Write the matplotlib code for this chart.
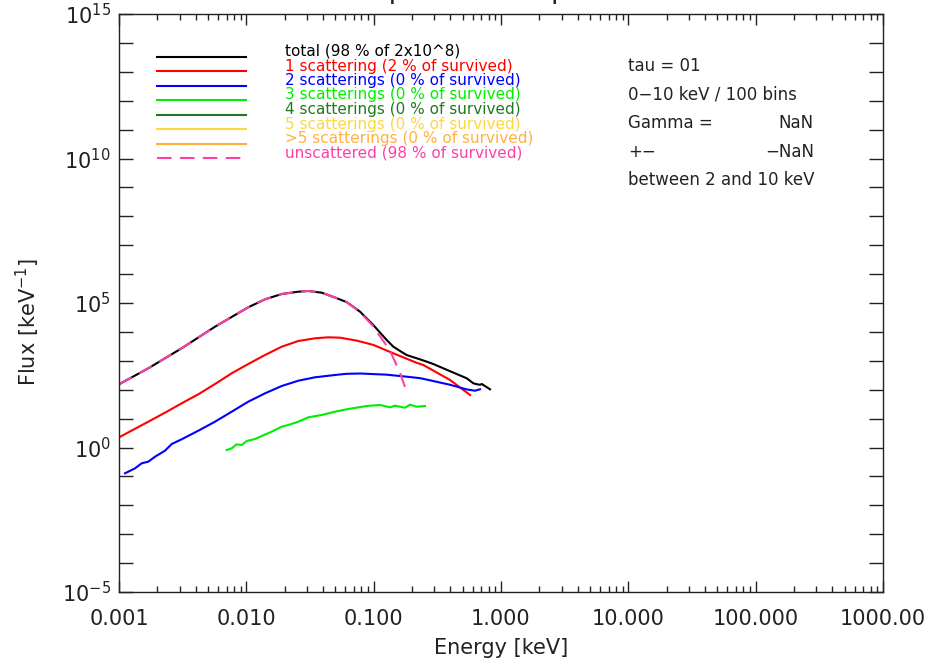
import numpy as np
import matplotlib
matplotlib.use('Agg')
import matplotlib.pyplot as plt
from matplotlib.ticker import FixedLocator, FixedFormatter, NullFormatter
from matplotlib.lines import Line2D

# ---------------- data (log10 of energy [keV] and flux [keV^-1]) ----------------
total_logE = [-3.000, -2.770, -2.508, -2.246, -1.985, -1.853, -1.722, -1.592, -1.513,
              -1.408, -1.304, -1.212, -1.160, -1.107, -1.003, -0.898, -0.846, -0.793,
              -0.741, -0.636, -0.583, -0.532, -0.400, -0.269, -0.217, -0.191, -0.165,
              -0.151, -0.086]
total_logF = [2.187, 2.740, 3.433, 4.180, 4.851, 5.128, 5.311, 5.391, 5.415,
              5.357, 5.190, 5.030, 4.870, 4.700, 4.239, 3.720, 3.490, 3.340,
              3.200, 3.050, 2.970, 2.889, 2.640, 2.394, 2.221, 2.190, 2.170,
              2.197, 2.014]

unsc_logE = [-3.000, -2.770, -2.508, -2.246, -1.985, -1.853, -1.722, -1.592, -1.513,
             -1.408, -1.304, -1.212, -1.160, -1.107, -1.005, -0.872, -0.793, -0.741]
unsc_logF = [2.187, 2.740, 3.433, 4.180, 4.851, 5.128, 5.311, 5.391, 5.415,
             5.357, 5.190, 5.030, 4.860, 4.678, 4.204, 3.350, 2.590, 1.931]

s1_logE = [-3.005, -2.770, -2.639, -2.508, -2.377, -2.246, -2.115, -1.985, -1.853,
           -1.722, -1.592, -1.461, -1.356, -1.264, -1.134, -1.003, -0.846, -0.662,
           -0.610, -0.400, -0.243]
s1_logF = [0.339, 0.893, 1.204, 1.529, 1.841, 2.197, 2.567, 2.889, 3.201,
           3.488, 3.685, 3.778, 3.813, 3.800, 3.700, 3.550, 3.260, 2.930,
           2.855, 2.336, 1.817]

s2_logE = [-2.953, -2.874, -2.822, -2.770, -2.717, -2.639, -2.586, -2.508, -2.377,
           -2.246, -2.115, -1.985, -1.853, -1.722, -1.592, -1.461, -1.304, -1.212,
           -1.100, -1.003, -0.898, -0.741, -0.636, -0.532, -0.400, -0.269, -0.204,
           -0.165]
s2_logF = [-0.893, -0.720, -0.547, -0.491, -0.318, -0.111, 0.121, 0.284, 0.581,
           0.893, 1.239, 1.585, 1.875, 2.128, 2.311, 2.429, 2.509, 2.550,
           2.560, 2.540, 2.520, 2.450, 2.400, 2.300, 2.170, 2.010, 1.965,
           2.014]

s3_logE = [-2.154, -2.115, -2.076, -2.036, -1.997, -1.932, -1.879, -1.801, -1.722,
           -1.670, -1.592, -1.513, -1.408, -1.304, -1.212, -1.133, -1.055, -0.950,
           -0.872, -0.832, -0.754, -0.715, -0.662, -0.597]
s3_logF = [-0.087, -0.028, 0.110, 0.087, 0.225, 0.294, 0.398, 0.547, 0.720,
           0.779, 0.893, 1.045, 1.125, 1.239, 1.322, 1.380, 1.436, 1.471,
           1.391, 1.446, 1.377, 1.481, 1.412, 1.436]

legend_labels = ["total (98 % of 2x10^8)",
                 "1 scattering (2 % of survived)",
                 "2 scatterings (0 % of survived)",
                 "3 scatterings (0 % of survived)",
                 "4 scatterings (0 % of survived)",
                 "5 scatterings (0 % of survived)",
                 ">5 scatterings (0 % of survived)",
                 "unscattered (98 % of survived)"]
legend_colors = ["#000000", "#ff0000", "#0000ff", "#00ee00", "#1f7a1f",
                 "#ffd740", "#ffb040", "#ff3fa8"]
legend_dashed = [False] * 7 + [True]

info_left = ["tau = 01", "0\u221210 keV / 100 bins", "Gamma =", "+\u2212",
             "between 2 and 10 keV"]
info_right = ["", "", "NaN", "\u2212NaN", ""]

xtick_vals = [0.001, 0.01, 0.1, 1.0, 10.0, 100.0, 1000.0]
xtick_labels = ["0.001", "0.010", "0.100", "1.000", "10.000", "100.000", "1000.00"]
ytick_exps = list(range(-5, 16))
title = "Spectrum - Sphere"

# ---------------- figure ----------------
W, H = 931, 661
fig = plt.figure(figsize=(W / 100, H / 100), dpi=100)
fig.patch.set_facecolor('white')
L, R, T, B = 119, 883, 14, 592
ax = fig.add_axes([L / W, 1 - B / H, (R - L) / W, (B - T) / H])

fc = '#222222'

def p(le, lf):
    return 10 ** np.array(le), 10 ** np.array(lf)

lw = 1.5
ax.plot(*p(total_logE, total_logF), color=legend_colors[0], lw=lw)
ax.plot(*p(s1_logE, s1_logF), color=legend_colors[1], lw=lw)
ax.plot(*p(s2_logE, s2_logF), color=legend_colors[2], lw=lw)
ax.plot(*p(s3_logE, s3_logF), color=legend_colors[3], lw=lw)
ax.plot(*p(unsc_logE, unsc_logF), color=legend_colors[7], lw=lw, dashes=(7, 4))

ax.set_xscale('log')
ax.set_yscale('log')
ax.set_xlim(1e-3, 1e3)
ax.set_ylim(1e-5, 1e15)

ax.xaxis.set_major_locator(FixedLocator(xtick_vals))
ax.xaxis.set_major_formatter(FixedFormatter(xtick_labels))
minors = [m * 10.0 ** k for k in range(-3, 3) for m in range(2, 10)]
ax.xaxis.set_minor_locator(FixedLocator(minors))
ax.xaxis.set_minor_formatter(NullFormatter())

ax.yaxis.set_major_locator(FixedLocator([10.0 ** e for e in ytick_exps]))
ax.yaxis.set_major_formatter(FixedFormatter(
    [("$10^{%d}$" % e) if e % 5 == 0 else "" for e in ytick_exps]))
ax.yaxis.set_minor_locator(FixedLocator([]))

ax.tick_params(axis='x', which='major', direction='in', length=8, width=1,
               top=True, bottom=True, colors=fc, labelsize=15, pad=12)
ax.tick_params(axis='x', which='minor', direction='in', length=4, width=1,
               top=True, bottom=True, colors=fc)
ax.tick_params(axis='y', which='major', direction='in', length=10, width=1,
               left=True, right=True, colors=fc, labelsize=15, pad=6)
for s in ax.spines.values():
    s.set_color(fc)
    s.set_linewidth(1)

# axis labels
fig.text(501 / W, 1 - 648 / H, "Energy [keV]", ha='center', va='center',
         fontsize=15, color=fc)
fig.text(28 / W, 1 - 322 / H, "Flux [keV$^{-1}$]", ha='center', va='center',
         rotation=90, fontsize=15, color=fc)

# title (mostly above the top edge, as in the reference)
fig.text(501 / W, 1 + 2 / H, title, ha='center', va='baseline', fontsize=20,
         color=fc)

# legend drawn by hand
for i, (lab, col, dsh) in enumerate(zip(legend_labels, legend_colors, legend_dashed)):
    yl = 1 - (57 + 14.45 * i) / H
    yt = 1 - (51.5 + 14.5 * i) / H
    kw = dict(dashes=(7, 4)) if dsh else {}
    fig.add_artist(Line2D([157 / W, 246 / W], [yl, yl], color=col, lw=1.5,
                          transform=fig.transFigure, **kw))
    fig.text(285 / W, yt, lab, ha='left', va='center', fontsize=11, color=col)

# information text
for i, (a, b) in enumerate(zip(info_left, info_right)):
    y = 1 - (66 + 28.6 * i) / H
    fig.text(628 / W, y, a, ha='left', va='center', fontsize=12, color=fc)
    if b:
        fig.text(814 / W, y, b, ha='right', va='center', fontsize=12, color=fc)

fig.savefig('out.png', dpi=100)
